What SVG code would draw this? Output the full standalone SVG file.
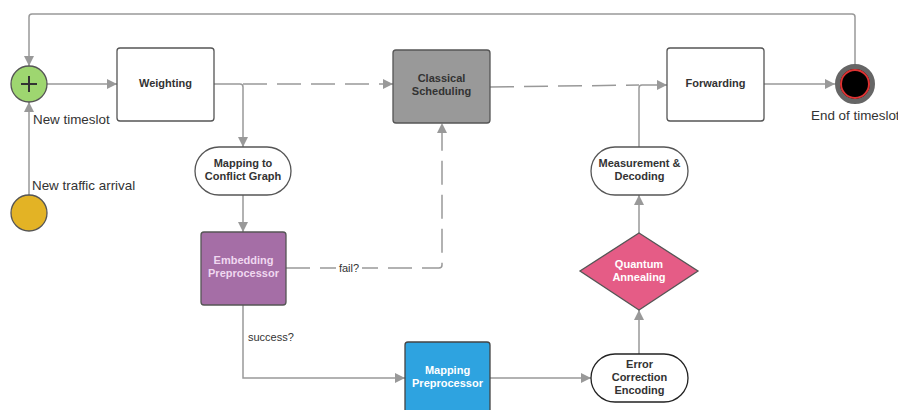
<svg xmlns="http://www.w3.org/2000/svg" width="898" height="410" viewBox="0 0 898 410">
<defs>
<marker id="ah" viewBox="0 0 10 10" refX="10" refY="5" markerWidth="10" markerHeight="10" markerUnits="userSpaceOnUse" orient="auto">
<path d="M0,0 L10,5 L0,10 z" fill="#999"/>
</marker>
</defs>
<style>
.c{fill:none;stroke:#999;stroke-width:1.5}
.d{stroke-dasharray:24,10}
.box{fill:#fff;stroke:#555;stroke-width:1.3}
.t{font-family:"Liberation Sans",Arial,sans-serif;font-size:11px;font-weight:bold;fill:#333;text-anchor:middle}
.lbl{font-family:"Liberation Sans",Arial,sans-serif;font-size:13.4px;fill:#333}
.sl{font-family:"Liberation Sans",Arial,sans-serif;font-size:11px;fill:#333}
</style>
<rect width="898" height="410" fill="#fff"/>
<g id="connectors">
<path class="c" d="M855,64 V17 Q855,14 852,14 H32 Q29,14 29,17 V66" marker-end="url(#ah)"/>
<path class="c" d="M29,195 V102" marker-end="url(#ah)"/>
<path class="c" d="M47,84 H117" marker-end="url(#ah)"/>
<path class="c" d="M214,84 H240 Q243,84 243,87 V147" marker-end="url(#ah)"/>
<path class="c d" d="M243,84 H393" marker-end="url(#ah)"/>
<path class="c" d="M243,195 V232" marker-end="url(#ah)"/>
<path class="c d" d="M286,268 H439 Q442,268 442,265 V123" marker-end="url(#ah)"/>
<rect x="336" y="260" width="26" height="14" fill="#fff"/>
<text class="sl" x="349" y="272" text-anchor="middle">fail?</text>
<path class="c" d="M243,305 V378 H405" marker-end="url(#ah)"/>
<text class="sl" x="248" y="341">success?</text>
<path class="c" d="M490,378 H591" marker-end="url(#ah)"/>
<path class="c" d="M639,354 V310" marker-end="url(#ah)"/>
<path class="c" d="M639,233 V195" marker-end="url(#ah)"/>
<path class="c" d="M639,147 V88 Q639,85 642,85 H667" marker-end="url(#ah)"/>
<path class="c d" d="M490,87 L639,85"/>
<path class="c" d="M764,84 H835" marker-end="url(#ah)"/>
</g>
<g id="start">
<circle cx="29" cy="84" r="18" fill="#9ed670" stroke="#555" stroke-width="1.3"/>
<path d="M21,84 H37 M29,76 V92" stroke="#333" stroke-width="2"/>
<text class="lbl" x="33" y="124">New timeslot</text>
</g>
<g id="arrival">
<circle cx="29" cy="213" r="18" fill="#e3b325" stroke="#555" stroke-width="1.3"/>
<text class="lbl" x="32" y="190">New traffic arrival</text>
</g>
<g id="weighting">
<rect class="box" x="117" y="48" width="97" height="73" rx="3"/>
<text class="t" x="165.5" y="87">Weighting</text>
</g>
<g id="mapping-conflict">
<rect class="box" x="195" y="147" width="96" height="48" rx="24"/>
<text class="t" x="243" y="167">Mapping to</text>
<text class="t" x="243" y="180">Conflict Graph</text>
</g>
<g id="embedding">
<rect x="201" y="232" width="85" height="73" rx="3" fill="#a56ea6" stroke="#555" stroke-width="1.3"/>
<text class="t" x="243.5" y="264" style="fill:#f0d8f0">Embedding</text>
<text class="t" x="243.5" y="277" style="fill:#f0d8f0">Preprocessor</text>
</g>
<g id="classical">
<rect x="393" y="50" width="97" height="73" rx="3" fill="#999" stroke="#555" stroke-width="1.3"/>
<text class="t" x="441.5" y="82">Classical</text>
<text class="t" x="441.5" y="95">Scheduling</text>
</g>
<g id="mapping-pre">
<rect x="405" y="342" width="85" height="75" rx="3" fill="#2ea3e0" stroke="#444" stroke-width="1.3"/>
<text class="t" x="447.5" y="374" style="fill:#fff">Mapping</text>
<text class="t" x="447.5" y="387" style="fill:#fff">Preprocessor</text>
</g>
<g id="error-corr">
<rect x="591" y="354" width="97" height="48" rx="24" fill="#fff" stroke="#222" stroke-width="1.3"/>
<text class="t" x="639.5" y="368">Error</text>
<text class="t" x="639.5" y="381">Correction</text>
<text class="t" x="639.5" y="394">Encoding</text>
</g>
<g id="quantum">
<path d="M639,233 L698,271 L639,310 L580,271 z" fill="#e55c86" stroke="#555" stroke-width="1.3"/>
<text class="t" x="639" y="268" style="fill:#fff">Quantum</text>
<text class="t" x="639" y="281" style="fill:#fff">Annealing</text>
</g>
<g id="measurement">
<rect class="box" x="591" y="147" width="97" height="48" rx="24"/>
<text class="t" x="639.5" y="167">Measurement &amp;</text>
<text class="t" x="639.5" y="180">Decoding</text>
</g>
<g id="forwarding">
<rect class="box" x="667" y="48" width="97" height="73" rx="3"/>
<text class="t" x="715.5" y="87">Forwarding</text>
</g>
<g id="end">
<circle cx="855" cy="84" r="17.5" fill="#000" stroke="#666" stroke-width="5"/>
<circle cx="855" cy="84" r="14" fill="none" stroke="#d33" stroke-width="2"/>
<text class="lbl" x="811" y="120">End of timeslot</text>
</g>
</svg>
